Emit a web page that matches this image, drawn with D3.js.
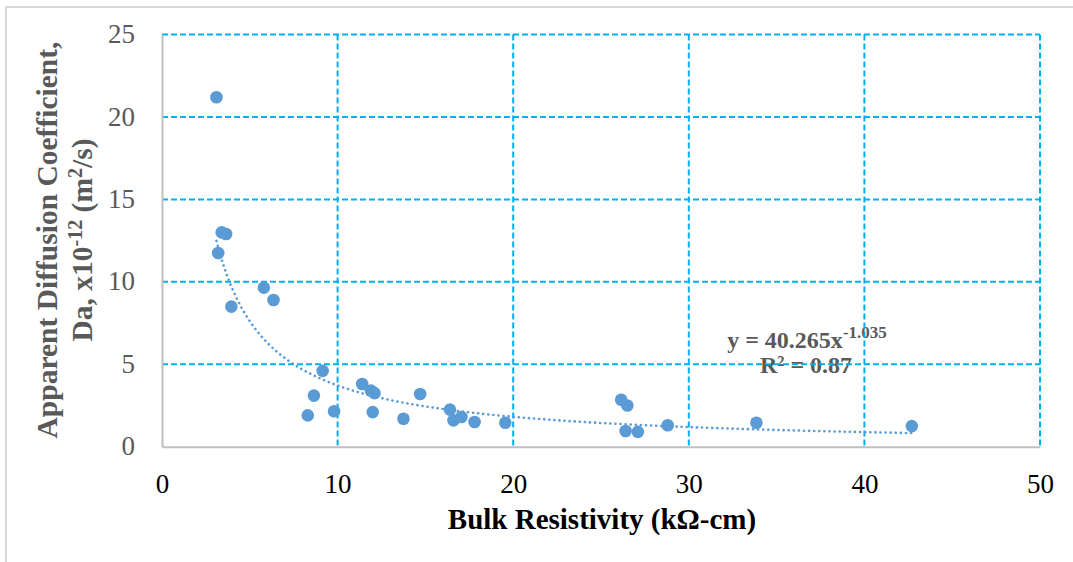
<!DOCTYPE html>
<html>
<head>
<meta charset="utf-8">
<script src="https://cdn.jsdelivr.net/npm/d3@7"></script>
<style>
  html, body { margin: 0; padding: 0; background: #fff; }
  svg { display: block; }
  text { font-family: "Liberation Serif", "Times New Roman", serif; }
</style>
</head>
<body>
<svg id="chart" width="1073" height="562"></svg>
<script>
// ---- data ----
const resistivity = [3.1, 3.4, 3.65, 3.2, 3.95, 5.8, 6.35, 9.15, 8.65, 8.3, 9.8, 11.4, 11.9, 12.1, 12.0, 13.75, 14.7, 16.4, 16.6, 17.05, 17.8, 19.55, 26.15, 26.5, 26.4, 27.1, 28.8, 33.85, 42.7];
const diffusion   = [21.2, 13.0, 12.9, 11.75, 8.5, 9.65, 8.9, 4.6, 3.1, 1.9, 2.15, 3.8, 3.4, 3.25, 2.1, 1.7, 3.2, 2.25, 1.6, 1.8, 1.5, 1.45, 2.85, 2.5, 0.95, 0.9, 1.3, 1.45, 1.25];
const xTicks = [0, 10, 20, 30, 40, 50];
const yTicks = [0, 5, 10, 15, 20, 25];
const fitCoef = 40.265, fitExp = -1.035, fitR2 = "0.87";
const xTitle = "Bulk Resistivity (kΩ-cm)";
const yTitle1 = "Apparent Diffusion Coefficient,";

const svg = d3.select("#chart");
const x = d3.scaleLinear().domain([0, 50]).range([162, 1040]);
const y = d3.scaleLinear().domain([0, 25]).range([446.7, 34.6]);

// outer frame (left & top visible)
svg.append("path").attr("d", "M6,562 V7 H1073")
  .attr("fill", "none").attr("stroke", "#d9d9d9").attr("stroke-width", 2);

// trendline equation (under gridlines)
const eq = svg.append("text").attr("x", 807).attr("y", 348)
  .attr("text-anchor", "middle").attr("font-weight", "bold")
  .attr("font-size", 24).attr("fill", "#595959");
eq.append("tspan").text("y = " + fitCoef + "x");
eq.append("tspan").attr("dy", -10).attr("font-size", 17).text(fitExp);
svg.append("text").attr("x", 806).attr("y", 373)
  .attr("text-anchor", "middle").attr("font-weight", "bold")
  .attr("font-size", 24).attr("fill", "#595959").text("R² = " + fitR2);

// gridlines
const grid = svg.append("g").attr("stroke", "#00b0f0").attr("stroke-width", 2)
  .attr("stroke-dasharray", "6,3").attr("fill", "none");
grid.selectAll("line.h").data(yTicks.filter(d => d > 0)).join("line")
  .attr("class", "h").attr("x1", x(0)).attr("x2", x(50))
  .attr("y1", d => y(d)).attr("y2", d => y(d));
grid.selectAll("line.v").data(xTicks.filter(d => d > 0)).join("line")
  .attr("class", "v").attr("y1", y(25)).attr("y2", y(0))
  .attr("x1", d => x(d)).attr("x2", d => x(d));

// axes
const xAxis = svg.append("g").attr("transform", `translate(0,${y(0)})`)
  .call(d3.axisBottom(x).tickValues(xTicks).tickSize(0).tickPadding(0));
xAxis.select(".domain").attr("stroke", "#bfbfbf").attr("stroke-width", 2);
xAxis.selectAll("text").attr("font-size", 27).attr("fill", "#000")
  .attr("font-family", "Liberation Serif").attr("dy", null).attr("y", 46);

const yAxis = svg.append("g").attr("transform", `translate(${x(0)},0)`)
  .call(d3.axisLeft(y).tickValues(yTicks).tickSize(0).tickPadding(0));
yAxis.select(".domain").attr("stroke", "#bfbfbf").attr("stroke-width", 2);
yAxis.selectAll("text").attr("font-size", 27).attr("fill", "#595959")
  .attr("font-family", "Liberation Serif").attr("x", -27).attr("dy", "0.3em");

// markers
svg.append("g").selectAll("circle").data(resistivity.map((r, i) => [r, diffusion[i]]))
  .join("circle").attr("cx", d => x(d[0])).attr("cy", d => y(d[1]))
  .attr("r", 6.3).attr("fill", "#5b9bd5");

// power trendline
const xmin = d3.min(resistivity), xmax = d3.max(resistivity);
const fitPts = d3.range(0, 201).map(i => {
  const xv = xmin + (xmax - xmin) * i / 200;
  return [xv, fitCoef * Math.pow(xv, fitExp)];
});
svg.append("path").datum(fitPts)
  .attr("d", d3.line().x(d => x(d[0])).y(d => y(d[1])))
  .attr("fill", "none").attr("stroke", "#5b9bd5").attr("stroke-width", 2.6)
  .attr("stroke-linecap", "round").attr("stroke-dasharray", "0.1,5");

// axis titles
svg.append("text").attr("x", 602).attr("y", 529).attr("text-anchor", "middle")
  .attr("font-weight", "bold").attr("font-size", 29).attr("fill", "#000").text(xTitle);

const yt = svg.append("text").attr("transform", "translate(57,240) rotate(-90)")
  .attr("text-anchor", "middle").attr("font-weight", "bold").attr("font-size", 29.5)
  .attr("fill", "#595959");
yt.append("tspan").attr("x", 0).attr("y", 0).text(yTitle1);
yt.append("tspan").attr("x", 0).attr("y", 35).text("Da, x10");
yt.append("tspan").attr("dy", -10).attr("font-size", 20).text("-12");
yt.append("tspan").attr("dy", 10).text(" (m");
yt.append("tspan").attr("dy", -10).attr("font-size", 20).text("2");
yt.append("tspan").attr("dy", 10).text("/s)");
</script>
</body>
</html>
